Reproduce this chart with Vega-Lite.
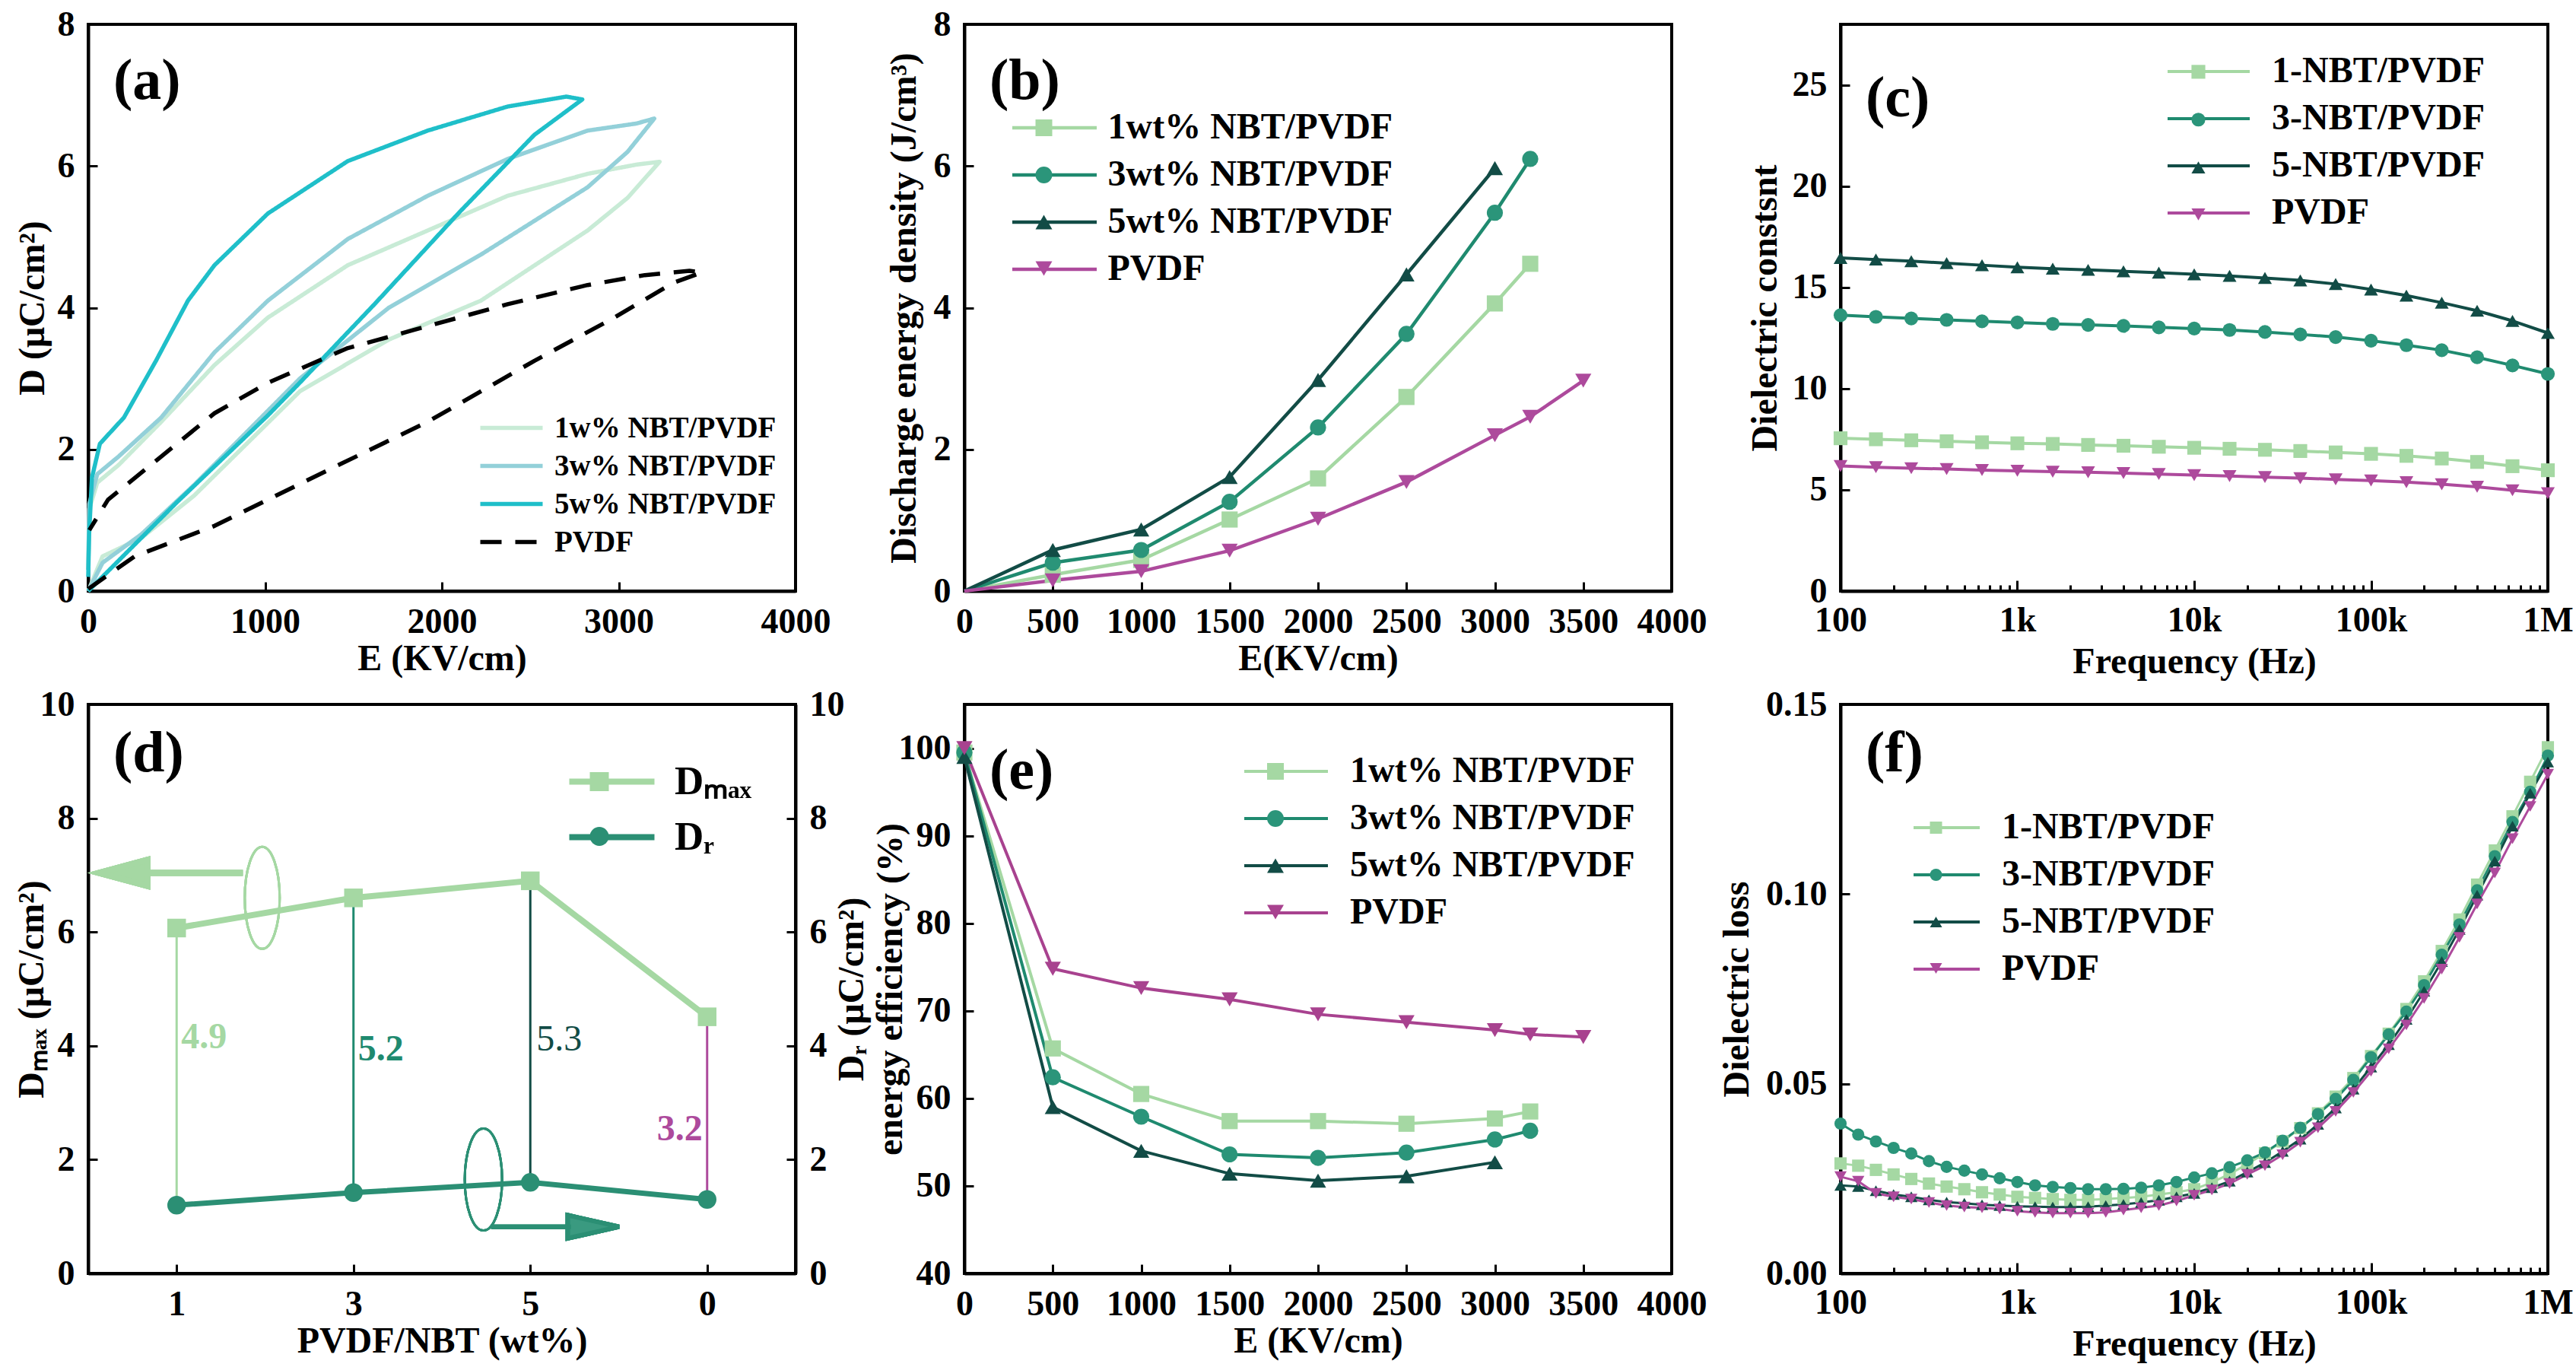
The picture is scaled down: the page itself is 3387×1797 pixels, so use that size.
{
  "$schema": "https://vega.github.io/schema/vega-lite/v6.json",
  "background": "white",
  "padding": {"left": 16, "top": 7, "right": 0, "bottom": 0},
  "bounds": "flush",
  "columns": 3,
  "spacing": {"row": 149, "column": 222},
  "datasets": {
    "a": [
      {"s": "1w% NBT/PVDF", "o": 0, "E": 0, "D": 0},
      {"s": "1w% NBT/PVDF", "o": 1, "E": 81, "D": 0.49},
      {"s": "1w% NBT/PVDF", "o": 2, "E": 300, "D": 0.75},
      {"s": "1w% NBT/PVDF", "o": 3, "E": 600, "D": 1.35},
      {"s": "1w% NBT/PVDF", "o": 4, "E": 1197, "D": 2.82},
      {"s": "1w% NBT/PVDF", "o": 5, "E": 1700, "D": 3.55},
      {"s": "1w% NBT/PVDF", "o": 6, "E": 2221, "D": 4.1},
      {"s": "1w% NBT/PVDF", "o": 7, "E": 2824, "D": 5.09},
      {"s": "1w% NBT/PVDF", "o": 8, "E": 3050, "D": 5.55},
      {"s": "1w% NBT/PVDF", "o": 9, "E": 3231, "D": 6.06},
      {"s": "1w% NBT/PVDF", "o": 10, "E": 3100, "D": 6.02},
      {"s": "1w% NBT/PVDF", "o": 11, "E": 2824, "D": 5.89},
      {"s": "1w% NBT/PVDF", "o": 12, "E": 2372, "D": 5.58},
      {"s": "1w% NBT/PVDF", "o": 13, "E": 1920, "D": 5.09},
      {"s": "1w% NBT/PVDF", "o": 14, "E": 1468, "D": 4.6},
      {"s": "1w% NBT/PVDF", "o": 15, "E": 1016, "D": 3.86},
      {"s": "1w% NBT/PVDF", "o": 16, "E": 714, "D": 3.19},
      {"s": "1w% NBT/PVDF", "o": 17, "E": 413, "D": 2.39},
      {"s": "1w% NBT/PVDF", "o": 18, "E": 172, "D": 1.78},
      {"s": "1w% NBT/PVDF", "o": 19, "E": 51, "D": 1.53},
      {"s": "1w% NBT/PVDF", "o": 20, "E": 6, "D": 1.16},
      {"s": "1w% NBT/PVDF", "o": 21, "E": 0, "D": 0.3},
      {"s": "3w% NBT/PVDF", "o": 0, "E": 0, "D": 0},
      {"s": "3w% NBT/PVDF", "o": 1, "E": 81, "D": 0.4},
      {"s": "3w% NBT/PVDF", "o": 2, "E": 300, "D": 0.8},
      {"s": "3w% NBT/PVDF", "o": 3, "E": 600, "D": 1.5},
      {"s": "3w% NBT/PVDF", "o": 4, "E": 1197, "D": 3.0},
      {"s": "3w% NBT/PVDF", "o": 5, "E": 1700, "D": 4.0},
      {"s": "3w% NBT/PVDF", "o": 6, "E": 2221, "D": 4.75},
      {"s": "3w% NBT/PVDF", "o": 7, "E": 2824, "D": 5.7},
      {"s": "3w% NBT/PVDF", "o": 8, "E": 3050, "D": 6.2},
      {"s": "3w% NBT/PVDF", "o": 9, "E": 3201, "D": 6.67},
      {"s": "3w% NBT/PVDF", "o": 10, "E": 3100, "D": 6.6},
      {"s": "3w% NBT/PVDF", "o": 11, "E": 2824, "D": 6.5},
      {"s": "3w% NBT/PVDF", "o": 12, "E": 2372, "D": 6.1},
      {"s": "3w% NBT/PVDF", "o": 13, "E": 1920, "D": 5.58},
      {"s": "3w% NBT/PVDF", "o": 14, "E": 1468, "D": 4.97},
      {"s": "3w% NBT/PVDF", "o": 15, "E": 1016, "D": 4.1},
      {"s": "3w% NBT/PVDF", "o": 16, "E": 714, "D": 3.37},
      {"s": "3w% NBT/PVDF", "o": 17, "E": 413, "D": 2.45},
      {"s": "3w% NBT/PVDF", "o": 18, "E": 172, "D": 1.9},
      {"s": "3w% NBT/PVDF", "o": 19, "E": 51, "D": 1.65},
      {"s": "3w% NBT/PVDF", "o": 20, "E": 6, "D": 1.23},
      {"s": "3w% NBT/PVDF", "o": 21, "E": 0, "D": 0.3},
      {"s": "5w% NBT/PVDF", "o": 0, "E": 0, "D": 0},
      {"s": "5w% NBT/PVDF", "o": 1, "E": 200, "D": 0.5},
      {"s": "5w% NBT/PVDF", "o": 2, "E": 500, "D": 1.25},
      {"s": "5w% NBT/PVDF", "o": 3, "E": 1016, "D": 2.48},
      {"s": "5w% NBT/PVDF", "o": 4, "E": 1200, "D": 2.95},
      {"s": "5w% NBT/PVDF", "o": 5, "E": 1619, "D": 4.05},
      {"s": "5w% NBT/PVDF", "o": 6, "E": 2100, "D": 5.35},
      {"s": "5w% NBT/PVDF", "o": 7, "E": 2523, "D": 6.44},
      {"s": "5w% NBT/PVDF", "o": 8, "E": 2794, "D": 6.94},
      {"s": "5w% NBT/PVDF", "o": 9, "E": 2704, "D": 6.98},
      {"s": "5w% NBT/PVDF", "o": 10, "E": 2372, "D": 6.84},
      {"s": "5w% NBT/PVDF", "o": 11, "E": 1920, "D": 6.5},
      {"s": "5w% NBT/PVDF", "o": 12, "E": 1468, "D": 6.07},
      {"s": "5w% NBT/PVDF", "o": 13, "E": 1016, "D": 5.33},
      {"s": "5w% NBT/PVDF", "o": 14, "E": 714, "D": 4.6},
      {"s": "5w% NBT/PVDF", "o": 15, "E": 564, "D": 4.1},
      {"s": "5w% NBT/PVDF", "o": 16, "E": 383, "D": 3.25},
      {"s": "5w% NBT/PVDF", "o": 17, "E": 202, "D": 2.45},
      {"s": "5w% NBT/PVDF", "o": 18, "E": 66, "D": 2.08},
      {"s": "5w% NBT/PVDF", "o": 19, "E": 21, "D": 1.6},
      {"s": "5w% NBT/PVDF", "o": 20, "E": 5, "D": 0.8},
      {"s": "5w% NBT/PVDF", "o": 21, "E": 0, "D": 0.2},
      {"s": "PVDF", "o": 0, "E": 0, "D": 0.03},
      {"s": "PVDF", "o": 1, "E": 262, "D": 0.49},
      {"s": "PVDF", "o": 2, "E": 714, "D": 0.92},
      {"s": "PVDF", "o": 3, "E": 1317, "D": 1.66},
      {"s": "PVDF", "o": 4, "E": 1920, "D": 2.39},
      {"s": "PVDF", "o": 5, "E": 2523, "D": 3.25},
      {"s": "PVDF", "o": 6, "E": 2975, "D": 3.86},
      {"s": "PVDF", "o": 7, "E": 3307, "D": 4.35},
      {"s": "PVDF", "o": 8, "E": 3472, "D": 4.5},
      {"s": "PVDF", "o": 9, "E": 3400, "D": 4.52},
      {"s": "PVDF", "o": 10, "E": 3148, "D": 4.46},
      {"s": "PVDF", "o": 11, "E": 2824, "D": 4.32},
      {"s": "PVDF", "o": 12, "E": 2372, "D": 4.05},
      {"s": "PVDF", "o": 13, "E": 1920, "D": 3.74},
      {"s": "PVDF", "o": 14, "E": 1468, "D": 3.43},
      {"s": "PVDF", "o": 15, "E": 1016, "D": 2.94},
      {"s": "PVDF", "o": 16, "E": 714, "D": 2.51},
      {"s": "PVDF", "o": 17, "E": 413, "D": 1.9},
      {"s": "PVDF", "o": 18, "E": 112, "D": 1.29},
      {"s": "PVDF", "o": 19, "E": 6, "D": 0.86}
    ],
    "b": [
      {"s": "1wt% NBT/PVDF", "E": 0, "W": 0}, {"s": "1wt% NBT/PVDF", "E": 500, "W": 0.23}, {"s": "1wt% NBT/PVDF", "E": 1000, "W": 0.44}, {"s": "1wt% NBT/PVDF", "E": 1500, "W": 1.01}, {"s": "1wt% NBT/PVDF", "E": 2000, "W": 1.59}, {"s": "1wt% NBT/PVDF", "E": 2500, "W": 2.74}, {"s": "1wt% NBT/PVDF", "E": 3000, "W": 4.06}, {"s": "1wt% NBT/PVDF", "E": 3200, "W": 4.62},
      {"s": "3wt% NBT/PVDF", "E": 0, "W": 0}, {"s": "3wt% NBT/PVDF", "E": 500, "W": 0.4}, {"s": "3wt% NBT/PVDF", "E": 1000, "W": 0.58}, {"s": "3wt% NBT/PVDF", "E": 1500, "W": 1.26}, {"s": "3wt% NBT/PVDF", "E": 2000, "W": 2.31}, {"s": "3wt% NBT/PVDF", "E": 2500, "W": 3.63}, {"s": "3wt% NBT/PVDF", "E": 3000, "W": 5.34}, {"s": "3wt% NBT/PVDF", "E": 3200, "W": 6.1},
      {"s": "5wt% NBT/PVDF", "E": 0, "W": 0}, {"s": "5wt% NBT/PVDF", "E": 500, "W": 0.58}, {"s": "5wt% NBT/PVDF", "E": 1000, "W": 0.87}, {"s": "5wt% NBT/PVDF", "E": 1500, "W": 1.61}, {"s": "5wt% NBT/PVDF", "E": 2000, "W": 2.98}, {"s": "5wt% NBT/PVDF", "E": 2500, "W": 4.47}, {"s": "5wt% NBT/PVDF", "E": 3000, "W": 5.97},
      {"s": "PVDF", "E": 0, "W": 0}, {"s": "PVDF", "E": 500, "W": 0.15}, {"s": "PVDF", "E": 1000, "W": 0.28}, {"s": "PVDF", "E": 1500, "W": 0.57}, {"s": "PVDF", "E": 2000, "W": 1.02}, {"s": "PVDF", "E": 2500, "W": 1.54}, {"s": "PVDF", "E": 3000, "W": 2.2}, {"s": "PVDF", "E": 3200, "W": 2.46}, {"s": "PVDF", "E": 3500, "W": 2.97}
    ],
    "c": [
      {"f": 100, "n1": 7.55, "n3": 13.63, "n5": 16.46, "pv": 6.18},
      {"f": 158.5, "n1": 7.5, "n3": 13.55, "n5": 16.38, "pv": 6.12},
      {"f": 251.2, "n1": 7.45, "n3": 13.47, "n5": 16.3, "pv": 6.07},
      {"f": 398.1, "n1": 7.4, "n3": 13.4, "n5": 16.2, "pv": 6.03},
      {"f": 631, "n1": 7.35, "n3": 13.33, "n5": 16.1, "pv": 5.98},
      {"f": 1000, "n1": 7.3, "n3": 13.27, "n5": 16.0, "pv": 5.94},
      {"f": 1585, "n1": 7.27, "n3": 13.2, "n5": 15.93, "pv": 5.9},
      {"f": 2512, "n1": 7.22, "n3": 13.15, "n5": 15.87, "pv": 5.87},
      {"f": 3981, "n1": 7.18, "n3": 13.1, "n5": 15.8, "pv": 5.83},
      {"f": 6310, "n1": 7.13, "n3": 13.03, "n5": 15.73, "pv": 5.78},
      {"f": 10000, "n1": 7.08, "n3": 12.97, "n5": 15.65, "pv": 5.73},
      {"f": 15849, "n1": 7.03, "n3": 12.9, "n5": 15.57, "pv": 5.68},
      {"f": 25119, "n1": 6.98, "n3": 12.8, "n5": 15.47, "pv": 5.63},
      {"f": 39811, "n1": 6.92, "n3": 12.68, "n5": 15.35, "pv": 5.58},
      {"f": 63096, "n1": 6.85, "n3": 12.55, "n5": 15.17, "pv": 5.52},
      {"f": 100000, "n1": 6.78, "n3": 12.37, "n5": 14.9, "pv": 5.46},
      {"f": 158489, "n1": 6.68, "n3": 12.15, "n5": 14.6, "pv": 5.38},
      {"f": 251189, "n1": 6.55, "n3": 11.9, "n5": 14.25, "pv": 5.28},
      {"f": 398107, "n1": 6.38, "n3": 11.55, "n5": 13.85, "pv": 5.15},
      {"f": 630957, "n1": 6.17, "n3": 11.15, "n5": 13.35, "pv": 4.98},
      {"f": 1000000, "n1": 5.97, "n3": 10.73, "n5": 12.75, "pv": 4.83}
    ],
    "d": [
      {"idx": 0, "wt": "1", "Dmax": 6.07, "Dr": 1.2, "diff": "4.9", "ly": 4.15},
      {"idx": 1, "wt": "3", "Dmax": 6.6, "Dr": 1.42, "diff": "5.2", "ly": 3.93},
      {"idx": 2, "wt": "5", "Dmax": 6.9, "Dr": 1.6, "diff": "5.3", "ly": 4.11},
      {"idx": 3, "wt": "0", "Dmax": 4.51, "Dr": 1.3, "diff": "3.2", "ly": 2.53}
    ],
    "e": [
      {"s": "1wt% NBT/PVDF", "E": 0, "n": 99.5}, {"s": "1wt% NBT/PVDF", "E": 500, "n": 65.7}, {"s": "1wt% NBT/PVDF", "E": 1000, "n": 60.5}, {"s": "1wt% NBT/PVDF", "E": 1500, "n": 57.4}, {"s": "1wt% NBT/PVDF", "E": 2000, "n": 57.4}, {"s": "1wt% NBT/PVDF", "E": 2500, "n": 57.1}, {"s": "1wt% NBT/PVDF", "E": 3000, "n": 57.7}, {"s": "1wt% NBT/PVDF", "E": 3200, "n": 58.5},
      {"s": "3wt% NBT/PVDF", "E": 0, "n": 99.5}, {"s": "3wt% NBT/PVDF", "E": 500, "n": 62.4}, {"s": "3wt% NBT/PVDF", "E": 1000, "n": 57.9}, {"s": "3wt% NBT/PVDF", "E": 1500, "n": 53.6}, {"s": "3wt% NBT/PVDF", "E": 2000, "n": 53.2}, {"s": "3wt% NBT/PVDF", "E": 2500, "n": 53.8}, {"s": "3wt% NBT/PVDF", "E": 3000, "n": 55.3}, {"s": "3wt% NBT/PVDF", "E": 3200, "n": 56.3},
      {"s": "5wt% NBT/PVDF", "E": 0, "n": 99}, {"s": "5wt% NBT/PVDF", "E": 500, "n": 59.0}, {"s": "5wt% NBT/PVDF", "E": 1000, "n": 54.0}, {"s": "5wt% NBT/PVDF", "E": 1500, "n": 51.4}, {"s": "5wt% NBT/PVDF", "E": 2000, "n": 50.6}, {"s": "5wt% NBT/PVDF", "E": 2500, "n": 51.1}, {"s": "5wt% NBT/PVDF", "E": 3000, "n": 52.7},
      {"s": "PVDF", "E": 0, "n": 100}, {"s": "PVDF", "E": 500, "n": 74.8}, {"s": "PVDF", "E": 1000, "n": 72.6}, {"s": "PVDF", "E": 1500, "n": 71.3}, {"s": "PVDF", "E": 2000, "n": 69.6}, {"s": "PVDF", "E": 2500, "n": 68.7}, {"s": "PVDF", "E": 3000, "n": 67.8}, {"s": "PVDF", "E": 3200, "n": 67.3}, {"s": "PVDF", "E": 3500, "n": 67.0}
    ],
    "f": [
      {"f": 100, "n1": 0.029, "n3": 0.0395, "n5": 0.0232, "pv": 0.0255},
      {"f": 125.9, "n1": 0.0284, "n3": 0.0366, "n5": 0.0229, "pv": 0.0243},
      {"f": 158.5, "n1": 0.0273, "n3": 0.0348, "n5": 0.0218, "pv": 0.0211},
      {"f": 199.5, "n1": 0.0261, "n3": 0.0331, "n5": 0.0208, "pv": 0.0202},
      {"f": 251.2, "n1": 0.0249, "n3": 0.0316, "n5": 0.0202, "pv": 0.0196},
      {"f": 316.2, "n1": 0.0237, "n3": 0.0296, "n5": 0.0194, "pv": 0.0187},
      {"f": 398.1, "n1": 0.0229, "n3": 0.0281, "n5": 0.0188, "pv": 0.0179},
      {"f": 501.2, "n1": 0.0222, "n3": 0.0271, "n5": 0.0185, "pv": 0.0175},
      {"f": 631, "n1": 0.0214, "n3": 0.0261, "n5": 0.0181, "pv": 0.0173},
      {"f": 794.3, "n1": 0.0208, "n3": 0.0251, "n5": 0.0179, "pv": 0.017},
      {"f": 1000, "n1": 0.0202, "n3": 0.0241, "n5": 0.0177, "pv": 0.0164},
      {"f": 1259, "n1": 0.0199, "n3": 0.0232, "n5": 0.0176, "pv": 0.0161},
      {"f": 1585, "n1": 0.0196, "n3": 0.0228, "n5": 0.0175, "pv": 0.0159},
      {"f": 1995, "n1": 0.0194, "n3": 0.0225, "n5": 0.0175, "pv": 0.0159},
      {"f": 2512, "n1": 0.0194, "n3": 0.0222, "n5": 0.0176, "pv": 0.0159},
      {"f": 3162, "n1": 0.0196, "n3": 0.0222, "n5": 0.0179, "pv": 0.0161},
      {"f": 3981, "n1": 0.0199, "n3": 0.0223, "n5": 0.0182, "pv": 0.0167},
      {"f": 5012, "n1": 0.0202, "n3": 0.0226, "n5": 0.0187, "pv": 0.0173},
      {"f": 6310, "n1": 0.0208, "n3": 0.0232, "n5": 0.0193, "pv": 0.0179},
      {"f": 7943, "n1": 0.0214, "n3": 0.0241, "n5": 0.0202, "pv": 0.0191},
      {"f": 10000, "n1": 0.0222, "n3": 0.0253, "n5": 0.0211, "pv": 0.0206},
      {"f": 12589, "n1": 0.024, "n3": 0.0264, "n5": 0.0226, "pv": 0.022},
      {"f": 15849, "n1": 0.0262, "n3": 0.028, "n5": 0.0243, "pv": 0.0237},
      {"f": 19953, "n1": 0.0288, "n3": 0.0298, "n5": 0.0267, "pv": 0.0261},
      {"f": 25119, "n1": 0.0317, "n3": 0.0319, "n5": 0.0292, "pv": 0.0284},
      {"f": 31623, "n1": 0.0348, "n3": 0.035, "n5": 0.0322, "pv": 0.0313},
      {"f": 39811, "n1": 0.0383, "n3": 0.0384, "n5": 0.0354, "pv": 0.0346},
      {"f": 50119, "n1": 0.0422, "n3": 0.042, "n5": 0.0393, "pv": 0.0384},
      {"f": 63096, "n1": 0.0466, "n3": 0.046, "n5": 0.0436, "pv": 0.0427},
      {"f": 79433, "n1": 0.0515, "n3": 0.051, "n5": 0.0486, "pv": 0.0477},
      {"f": 100000, "n1": 0.0573, "n3": 0.057, "n5": 0.0544, "pv": 0.0533},
      {"f": 125893, "n1": 0.0632, "n3": 0.063, "n5": 0.0603, "pv": 0.0592},
      {"f": 158489, "n1": 0.0697, "n3": 0.069, "n5": 0.067, "pv": 0.0655},
      {"f": 199526, "n1": 0.077, "n3": 0.076, "n5": 0.0744, "pv": 0.0725},
      {"f": 251189, "n1": 0.085, "n3": 0.084, "n5": 0.0822, "pv": 0.0802},
      {"f": 316228, "n1": 0.0933, "n3": 0.092, "n5": 0.0907, "pv": 0.0886},
      {"f": 398107, "n1": 0.1025, "n3": 0.101, "n5": 0.0997, "pv": 0.0974},
      {"f": 501187, "n1": 0.1115, "n3": 0.11, "n5": 0.1087, "pv": 0.1056},
      {"f": 630957, "n1": 0.1205, "n3": 0.119, "n5": 0.1179, "pv": 0.1146},
      {"f": 794328, "n1": 0.1296, "n3": 0.127, "n5": 0.1266, "pv": 0.1231},
      {"f": 1000000, "n1": 0.1387, "n3": 0.1365, "n5": 0.1348, "pv": 0.1316}
    ]
  },
  "resolve": {
    "scale": {"color": "independent", "stroke": "independent", "fill": "independent", "shape": "independent", "strokeDash": "independent"},
    "legend": {"color": "independent", "stroke": "independent", "fill": "independent", "shape": "independent", "strokeDash": "independent"}
  },
  "concat": [
    {
      "width": 930,
      "height": 745,
      "title": {"text": "(a)"},
      "data": {"name": "a"},
      "mark": {"type": "line", "strokeWidth": 5.5, "strokeJoin": "round"},
      "encoding": {
        "x": {"field": "E", "type": "quantitative", "scale": {"domain": [0, 4000]}, "axis": {"title": "E (KV/cm)", "values": [0, 1000, 2000, 3000, 4000], "format": "d"}},
        "y": {"field": "D", "type": "quantitative", "scale": {"domain": [0, 8]}, "axis": {"title": "D (μC/cm²)", "values": [0, 2, 4, 6, 8], "format": "d", "titlePadding": 8}},
        "order": {"field": "o"},
        "stroke": {
          "field": "s", "type": "nominal",
          "scale": {"domain": ["1w% NBT/PVDF", "3w% NBT/PVDF", "5w% NBT/PVDF", "PVDF"], "range": ["#c8ebd6", "#93d0d9", "#1fbfc9", "#000000"]},
          "legend": {"title": null, "orient": "none", "legendX": 537, "legendY": 511, "symbolType": "M-4.1,0H4.1", "symbolSize": 400, "symbolStrokeWidth": 5.5, "labelFontSize": 39, "rowPadding": 10, "labelOffset": 37}
        },
        "strokeDash": {
          "field": "s", "type": "nominal",
          "scale": {"domain": ["1w% NBT/PVDF", "3w% NBT/PVDF", "5w% NBT/PVDF", "PVDF"], "range": [[1, 0], [1, 0], [1, 0], [28, 18]]},
          "legend": {"title": null, "orient": "none", "legendX": 537, "legendY": 511, "symbolType": "M-4.1,0H4.1", "symbolSize": 400, "symbolStrokeWidth": 5.5, "labelFontSize": 39, "rowPadding": 10, "labelOffset": 37}
        }
      }
    },
    {
      "width": 930,
      "height": 745,
      "title": {"text": "(b)"},
      "data": {"name": "b"},
      "encoding": {
        "x": {"field": "E", "type": "quantitative", "scale": {"domain": [0, 4000]}, "axis": {"title": "E(KV/cm)", "values": [0, 500, 1000, 1500, 2000, 2500, 3000, 3500, 4000], "format": "d"}},
        "y": {"field": "W", "type": "quantitative", "scale": {"domain": [0, 8]}, "axis": {"title": "Discharge energy density (J/cm³)", "values": [0, 2, 4, 6, 8], "format": "d", "titlePadding": 14}}
      },
      "layer": [
        {
          "mark": {"type": "line", "strokeWidth": 4.5},
          "encoding": {
            "stroke": {
              "field": "s", "type": "nominal",
              "scale": {"domain": ["1wt% NBT/PVDF", "3wt% NBT/PVDF", "5wt% NBT/PVDF", "PVDF"], "range": ["#a5d8a3", "#1f8a6f", "#124c46", "#ad4a9c"]},
              "legend": {"title": null, "orient": "none", "legendX": 94.5, "legendY": 112, "symbolType": "M-5.55,0H5.55", "symbolSize": 400, "symbolStrokeWidth": 4.5, "rowPadding": 14, "labelOffset": 46}
            }
          }
        },
        {
          "transform": [{"filter": "datum.E > 0"}],
          "mark": {"type": "point", "filled": true, "size": 450, "opacity": 1},
          "encoding": {
            "fill": {
              "field": "s", "type": "nominal",
              "scale": {"range": ["#a5d8a3", "#2b957a", "#124c46", "#ad4a9c"]},
              "legend": {"title": null, "orient": "none", "legendX": 93.5, "legendY": 125, "symbolSize": 484, "symbolStrokeWidth": 0, "rowPadding": 40, "labelOffset": 0, "labelFontSize": 1, "labelExpr": "''", "labelColor": "transparent"}
            },
            "shape": {
              "field": "s", "type": "nominal",
              "scale": {"range": ["square", "circle", "triangle-up", "triangle-down"]},
              "legend": {"title": null, "orient": "none", "legendX": 93.5, "legendY": 125, "symbolSize": 484, "symbolStrokeWidth": 0, "rowPadding": 40, "labelOffset": 0, "labelFontSize": 1, "labelExpr": "''", "labelColor": "transparent"}
            }
          }
        }
      ]
    },
    {
      "width": 930,
      "height": 745,
      "title": {"text": "(c)"},
      "data": {"name": "c"},
      "transform": [{"fold": ["n1", "n3", "n5", "pv"], "as": ["s", "v"]}],
      "encoding": {
        "x": {
          "field": "f", "type": "quantitative",
          "scale": {"type": "log", "domain": [100, 1000000]},
          "axis": {
            "title": "Frequency (Hz)",
            "values": [100, 200, 300, 400, 500, 600, 700, 800, 900, 1000, 2000, 3000, 4000, 5000, 6000, 7000, 8000, 9000, 10000, 20000, 30000, 40000, 50000, 60000, 70000, 80000, 90000, 100000, 200000, 300000, 400000, 500000, 600000, 700000, 800000, 900000, 1000000],
            "labelExpr": "datum.value == 100 ? '100' : datum.value == 1000 ? '1k' : datum.value == 10000 ? '10k' : datum.value == 100000 ? '100k' : datum.value == 1000000 ? '1M' : ''",
            "tickSize": {"condition": {"test": "datum.value == 100 || datum.value == 1000 || datum.value == 10000 || datum.value == 100000 || datum.value == 1000000", "value": -14}, "value": -8}
          }
        },
        "y": {"field": "v", "type": "quantitative", "scale": {"domain": [0, 28]}, "axis": {"title": "Dielectric constsnt", "values": [0, 5, 10, 15, 20, 25], "titlePadding": 11}}
      },
      "layer": [
        {
          "mark": {"type": "line", "strokeWidth": 4},
          "encoding": {
            "stroke": {
              "field": "s", "type": "nominal",
              "scale": {"domain": ["n1", "n3", "n5", "pv"], "range": ["#a5d8a3", "#1f8a6f", "#124c46", "#ad4a9c"]},
              "legend": {"title": null, "orient": "none", "legendX": 460, "legendY": 38, "symbolType": "M-5.4,0H5.4", "symbolSize": 400, "symbolStrokeWidth": 4, "rowPadding": 14, "labelOffset": 59, "labelExpr": "{'n1': '1-NBT/PVDF', 'n3': '3-NBT/PVDF', 'n5': '5-NBT/PVDF', 'pv': 'PVDF'}[datum.label]"}
            }
          }
        },
        {
          "mark": {"type": "point", "filled": true, "size": 330, "opacity": 1},
          "encoding": {
            "fill": {
              "field": "s", "type": "nominal",
              "scale": {"range": ["#a5d8a3", "#2b957a", "#124c46", "#ad4a9c"]},
              "legend": {"title": null, "orient": "none", "legendX": 461, "legendY": 52.9, "symbolSize": 330, "symbolStrokeWidth": 0, "rowPadding": 43.83, "labelOffset": 0, "labelFontSize": 1, "labelExpr": "''", "labelColor": "transparent"}
            },
            "shape": {
              "field": "s", "type": "nominal",
              "scale": {"range": ["square", "circle", "triangle-up", "triangle-down"]},
              "legend": {"title": null, "orient": "none", "legendX": 461, "legendY": 52.9, "symbolSize": 330, "symbolStrokeWidth": 0, "rowPadding": 43.83, "labelOffset": 0, "labelFontSize": 1, "labelExpr": "''", "labelColor": "transparent"}
            }
          }
        }
      ]
    },
    {
      "width": 930,
      "height": 748,
      "title": {"text": "(d)", "offset": -127},
      "data": {"name": "d"},
      "encoding": {
        "x": {"field": "idx", "type": "quantitative", "scale": {"domain": [-0.5, 3.5]}, "axis": {"title": "PVDF/NBT (wt%)", "values": [0, 1, 2, 3], "labelExpr": "['1', '3', '5', '0'][datum.value]"}}
      },
      "resolve": {"scale": {"y": "independent"}},
      "layer": [
        {
          "layer": [
            {
              "mark": {"type": "rule", "strokeWidth": 3},
              "encoding": {
                "y": {"field": "Dr", "type": "quantitative", "scale": {"domain": [0, 10]}, "axis": {"title": "Dₘₐₓ (μC/cm²)", "values": [0, 2, 4, 6, 8, 10], "format": "d", "titlePadding": -14}},
                "y2": {"field": "Dmax"},
                "color": {"field": "wt", "type": "nominal", "scale": {"domain": ["1", "3", "5", "0"], "range": ["#a5d8a3", "#1f8a6f", "#124c46", "#ad4a9c"]}, "legend": null}
              }
            },
            {
              "transform": [{"filter": "datum.wt == '1' || datum.wt == '3'"}],
              "mark": {"type": "text", "align": "left", "baseline": "middle", "dx": 6, "fontSize": 48, "fontWeight": "bold"},
              "encoding": {
                "y": {"field": "ly", "type": "quantitative", "scale": {"domain": [0, 10]}},
                "text": {"field": "diff"},
                "color": {"field": "wt", "type": "nominal", "scale": {"domain": ["1", "3", "5", "0"], "range": ["#a5d8a3", "#1f8a6f", "#124c46", "#ad4a9c"]}, "legend": null}
              }
            },
            {
              "transform": [{"filter": "datum.wt == '5'"}],
              "mark": {"type": "text", "align": "left", "baseline": "middle", "dx": 8, "fontSize": 48, "fontWeight": "normal"},
              "encoding": {
                "y": {"field": "ly", "type": "quantitative", "scale": {"domain": [0, 10]}},
                "text": {"field": "diff"},
                "color": {"field": "wt", "type": "nominal", "scale": {"domain": ["1", "3", "5", "0"], "range": ["#a5d8a3", "#1f8a6f", "#124c46", "#ad4a9c"]}, "legend": null}
              }
            },
            {
              "transform": [{"filter": "datum.wt == '0'"}],
              "mark": {"type": "text", "align": "right", "baseline": "middle", "dx": -6, "fontSize": 48, "fontWeight": "bold"},
              "encoding": {
                "y": {"field": "ly", "type": "quantitative", "scale": {"domain": [0, 10]}},
                "text": {"field": "diff"},
                "color": {"field": "wt", "type": "nominal", "scale": {"domain": ["1", "3", "5", "0"], "range": ["#a5d8a3", "#1f8a6f", "#124c46", "#ad4a9c"]}, "legend": null}
              }
            },
            {
              "mark": {"type": "point", "shape": "M0,-1A0.343,1 0 1,1 0,1A0.343,1 0 1,1 0,-1", "size": 17956, "filled": false, "stroke": "#a5d8a3", "strokeWidth": 3, "opacity": 1},
              "encoding": {"x": {"datum": 0.484}, "y": {"datum": 6.6, "type": "quantitative", "scale": {"domain": [0, 10]}}}
            },
            {
              "mark": {"type": "point", "shape": "M1,0L-0.4,0M-0.33,-0.18L-1,0L-0.33,0.18Z", "size": 35721, "filled": true, "fill": "#a5d8a3", "stroke": "#a5d8a3", "strokeWidth": 8, "opacity": 1},
              "encoding": {"x": {"datum": -0.032}, "y": {"datum": 7.04, "type": "quantitative", "scale": {"domain": [0, 10]}}}
            },
            {
              "mark": {"type": "point", "shape": "M0,-1A0.366,1 0 1,1 0,1A0.366,1 0 1,1 0,-1", "size": 17956, "filled": false, "stroke": "#2b8f74", "strokeWidth": 3, "opacity": 1},
              "encoding": {"x": {"datum": 1.735}, "y": {"datum": 1.65, "type": "quantitative", "scale": {"domain": [0, 10]}}}
            },
            {
              "mark": {"type": "point", "shape": "M-1,0L0.25,0M0.2,-0.18L1,0L0.2,0.18Z", "size": 28224, "filled": true, "fill": "#3a9a80", "stroke": "#2b8f74", "strokeWidth": 6, "opacity": 1},
              "encoding": {"x": {"datum": 2.14}, "y": {"datum": 0.82, "type": "quantitative", "scale": {"domain": [0, 10]}}}
            },
            {
              "transform": [{"fold": ["Dmax", "Dr"], "as": ["k", "v"]}, {"filter": "datum.k == 'Dmax'"}],
              "mark": {"type": "line", "strokeWidth": 8},
              "encoding": {
                "y": {"field": "v", "type": "quantitative", "scale": {"domain": [0, 10]}},
                "stroke": {
                  "field": "k", "type": "nominal",
                  "scale": {"domain": ["Dmax", "Dr"], "range": ["#a5d8a3", "#2b8f74"]},
                  "legend": {"title": null, "orient": "none", "legendX": 662, "legendY": 75, "symbolType": "M-5.6,0H5.6", "symbolSize": 400, "symbolStrokeWidth": 8, "labelFontSize": 53, "rowPadding": 19, "labelOffset": 56, "labelExpr": "datum.label == 'Dmax' ? 'Dₘₐₓ' : 'Dᵣ'"}
                }
              }
            },
            {
              "transform": [{"fold": ["Dmax", "Dr"], "as": ["k", "v"]}, {"filter": "datum.k == 'Dmax'"}],
              "mark": {"type": "point", "filled": true, "size": 600, "opacity": 1},
              "encoding": {
                "y": {"field": "v", "type": "quantitative", "scale": {"domain": [0, 10]}},
                "fill": {
                  "field": "k", "type": "nominal",
                  "scale": {"range": ["#a5d8a3", "#2b8f74"]},
                  "legend": {"title": null, "orient": "none", "legendX": 659.5, "legendY": 89, "symbolSize": 625, "symbolStrokeWidth": 0, "rowPadding": 47, "labelOffset": 0, "labelFontSize": 1, "labelExpr": "''", "labelColor": "transparent"}
                },
                "shape": {
                  "field": "k", "type": "nominal",
                  "scale": {"range": ["square", "circle"]},
                  "legend": {"title": null, "orient": "none", "legendX": 659.5, "legendY": 89, "symbolSize": 625, "symbolStrokeWidth": 0, "rowPadding": 47, "labelOffset": 0, "labelFontSize": 1, "labelExpr": "''", "labelColor": "transparent"}
                }
              }
            }
          ]
        },
        {
          "transform": [{"fold": ["Dmax", "Dr"], "as": ["k", "v"]}, {"filter": "datum.k == 'Dr'"}],
          "encoding": {
            "y": {"field": "v", "type": "quantitative", "scale": {"domain": [0, 10]}, "axis": {"orient": "right", "title": "Dᵣ (μC/cm²)", "titleAngle": 270, "values": [0, 2, 4, 6, 8, 10], "format": "d", "titlePadding": 34}}
          },
          "layer": [
            {
              "mark": {"type": "line", "strokeWidth": 7},
              "encoding": {"stroke": {"field": "k", "type": "nominal", "scale": {"domain": ["Dmax", "Dr"], "range": ["#a5d8a3", "#2b8f74"]}}}
            },
            {
              "mark": {"type": "point", "filled": true, "size": 600, "opacity": 1},
              "encoding": {
                "fill": {"field": "k", "type": "nominal", "scale": {"range": ["#a5d8a3", "#2b8f74"]}},
                "shape": {"field": "k", "type": "nominal", "scale": {"range": ["square", "circle"]}}
              }
            }
          ]
        }
      ]
    },
    {
      "width": 930,
      "height": 748,
      "title": {"text": "(e)", "offset": -127},
      "data": {"name": "e"},
      "encoding": {
        "x": {"field": "E", "type": "quantitative", "scale": {"domain": [0, 4000]}, "axis": {"title": "E (KV/cm)", "values": [0, 500, 1000, 1500, 2000, 2500, 3000, 3500, 4000], "format": "d"}},
        "y": {"field": "n", "type": "quantitative", "scale": {"domain": [40, 105]}, "axis": {"title": "energy efficiency (%)", "values": [40, 50, 60, 70, 80, 90, 100], "titlePadding": -14}}
      },
      "layer": [
        {
          "mark": {"type": "line", "strokeWidth": 4},
          "encoding": {
            "stroke": {
              "field": "s", "type": "nominal",
              "scale": {"domain": ["1wt% NBT/PVDF", "3wt% NBT/PVDF", "5wt% NBT/PVDF", "PVDF"], "range": ["#a5d8a3", "#1f8a6f", "#124c46", "#a8428f"]},
              "legend": {"title": null, "orient": "none", "legendX": 399, "legendY": 64, "symbolType": "M-5.5,0H5.5", "symbolSize": 400, "symbolStrokeWidth": 4, "rowPadding": 14, "labelOffset": 60}
            }
          }
        },
        {
          "mark": {"type": "point", "filled": true, "size": 450, "opacity": 1},
          "encoding": {
            "fill": {
              "field": "s", "type": "nominal",
              "scale": {"range": ["#a5d8a3", "#2b957a", "#124c46", "#a8428f"]},
              "legend": {"title": null, "orient": "none", "legendX": 398, "legendY": 77, "symbolSize": 484, "symbolStrokeWidth": 0, "rowPadding": 40, "labelOffset": 0, "labelFontSize": 1, "labelExpr": "''", "labelColor": "transparent"}
            },
            "shape": {
              "field": "s", "type": "nominal",
              "scale": {"range": ["square", "circle", "triangle-up", "triangle-down"]},
              "legend": {"title": null, "orient": "none", "legendX": 398, "legendY": 77, "symbolSize": 484, "symbolStrokeWidth": 0, "rowPadding": 40, "labelOffset": 0, "labelFontSize": 1, "labelExpr": "''", "labelColor": "transparent"}
            }
          }
        }
      ]
    },
    {
      "width": 930,
      "height": 748,
      "title": {"text": "(f)", "offset": -127},
      "data": {"name": "f"},
      "transform": [{"fold": ["n1", "n3", "n5", "pv"], "as": ["s", "v"]}],
      "encoding": {
        "x": {
          "field": "f", "type": "quantitative",
          "scale": {"type": "log", "domain": [100, 1000000]},
          "axis": {
            "title": "Frequency (Hz)",
            "values": [100, 200, 300, 400, 500, 600, 700, 800, 900, 1000, 2000, 3000, 4000, 5000, 6000, 7000, 8000, 9000, 10000, 20000, 30000, 40000, 50000, 60000, 70000, 80000, 90000, 100000, 200000, 300000, 400000, 500000, 600000, 700000, 800000, 900000, 1000000],
            "labelExpr": "datum.value == 100 ? '100' : datum.value == 1000 ? '1k' : datum.value == 10000 ? '10k' : datum.value == 100000 ? '100k' : datum.value == 1000000 ? '1M' : ''",
            "tickSize": {"condition": {"test": "datum.value == 100 || datum.value == 1000 || datum.value == 10000 || datum.value == 100000 || datum.value == 1000000", "value": -14}, "value": -8}
          }
        },
        "y": {"field": "v", "type": "quantitative", "scale": {"domain": [0, 0.15]}, "axis": {"title": "Dielectric loss", "values": [0, 0.05, 0.1, 0.15], "format": ".2f", "titlePadding": 13}}
      },
      "layer": [
        {
          "mark": {"type": "line", "strokeWidth": 3},
          "encoding": {
            "stroke": {
              "field": "s", "type": "nominal",
              "scale": {"domain": ["n1", "n3", "n5", "pv"], "range": ["#a5d8a3", "#1f8a6f", "#124c46", "#ad4a9c"]},
              "legend": {"title": null, "orient": "none", "legendX": 115.5, "legendY": 138, "symbolType": "M-4.35,0H4.35", "symbolSize": 400, "symbolStrokeWidth": 4, "rowPadding": 14, "labelOffset": 48.5, "labelExpr": "{'n1': '1-NBT/PVDF', 'n3': '3-NBT/PVDF', 'n5': '5-NBT/PVDF', 'pv': 'PVDF'}[datum.label]"}
            }
          }
        },
        {
          "mark": {"type": "point", "filled": true, "size": 260, "opacity": 1},
          "encoding": {
            "fill": {
              "field": "s", "type": "nominal",
              "scale": {"range": ["#a5d8a3", "#2b957a", "#124c46", "#ad4a9c"]},
              "legend": {"title": null, "orient": "none", "legendX": 117.5, "legendY": 154, "symbolSize": 256, "symbolStrokeWidth": 0, "rowPadding": 46, "labelOffset": 0, "labelFontSize": 1, "labelExpr": "''", "labelColor": "transparent"}
            },
            "shape": {
              "field": "s", "type": "nominal",
              "scale": {"range": ["square", "circle", "triangle-up", "triangle-down"]},
              "legend": {"title": null, "orient": "none", "legendX": 117.5, "legendY": 154, "symbolSize": 256, "symbolStrokeWidth": 0, "rowPadding": 46, "labelOffset": 0, "labelFontSize": 1, "labelExpr": "''", "labelColor": "transparent"}
            }
          }
        }
      ]
    }
  ],
  "config": {
    "font": "Liberation Serif",
    "view": {"stroke": "black", "strokeWidth": 4},
    "axis": {
      "grid": false,
      "domainColor": "black",
      "domainWidth": 4,
      "tickColor": "black",
      "tickWidth": 3,
      "tickSize": -12,
      "labelPadding": 30,
      "labelFont": "Liberation Serif",
      "labelFontSize": 46,
      "labelFontWeight": "bold",
      "labelColor": "black",
      "labelFlush": false,
      "labelOverlap": false,
      "titleFont": "Liberation Serif",
      "titleFontSize": 48,
      "titleFontWeight": "bold",
      "titleColor": "black",
      "titlePadding": 8
    },
    "axisX": {"titlePadding": 2},
    "legend": {
      "labelFont": "Liberation Serif",
      "labelFontSize": 48,
      "labelFontWeight": "bold",
      "labelColor": "black",
      "labelLimit": 0,
      "padding": 0
    },
    "title": {
      "font": "Liberation Serif",
      "fontSize": 76,
      "fontWeight": "bold",
      "color": "black",
      "anchor": "start",
      "frame": "group",
      "offset": -137,
      "dx": 33
    }
  }
}
